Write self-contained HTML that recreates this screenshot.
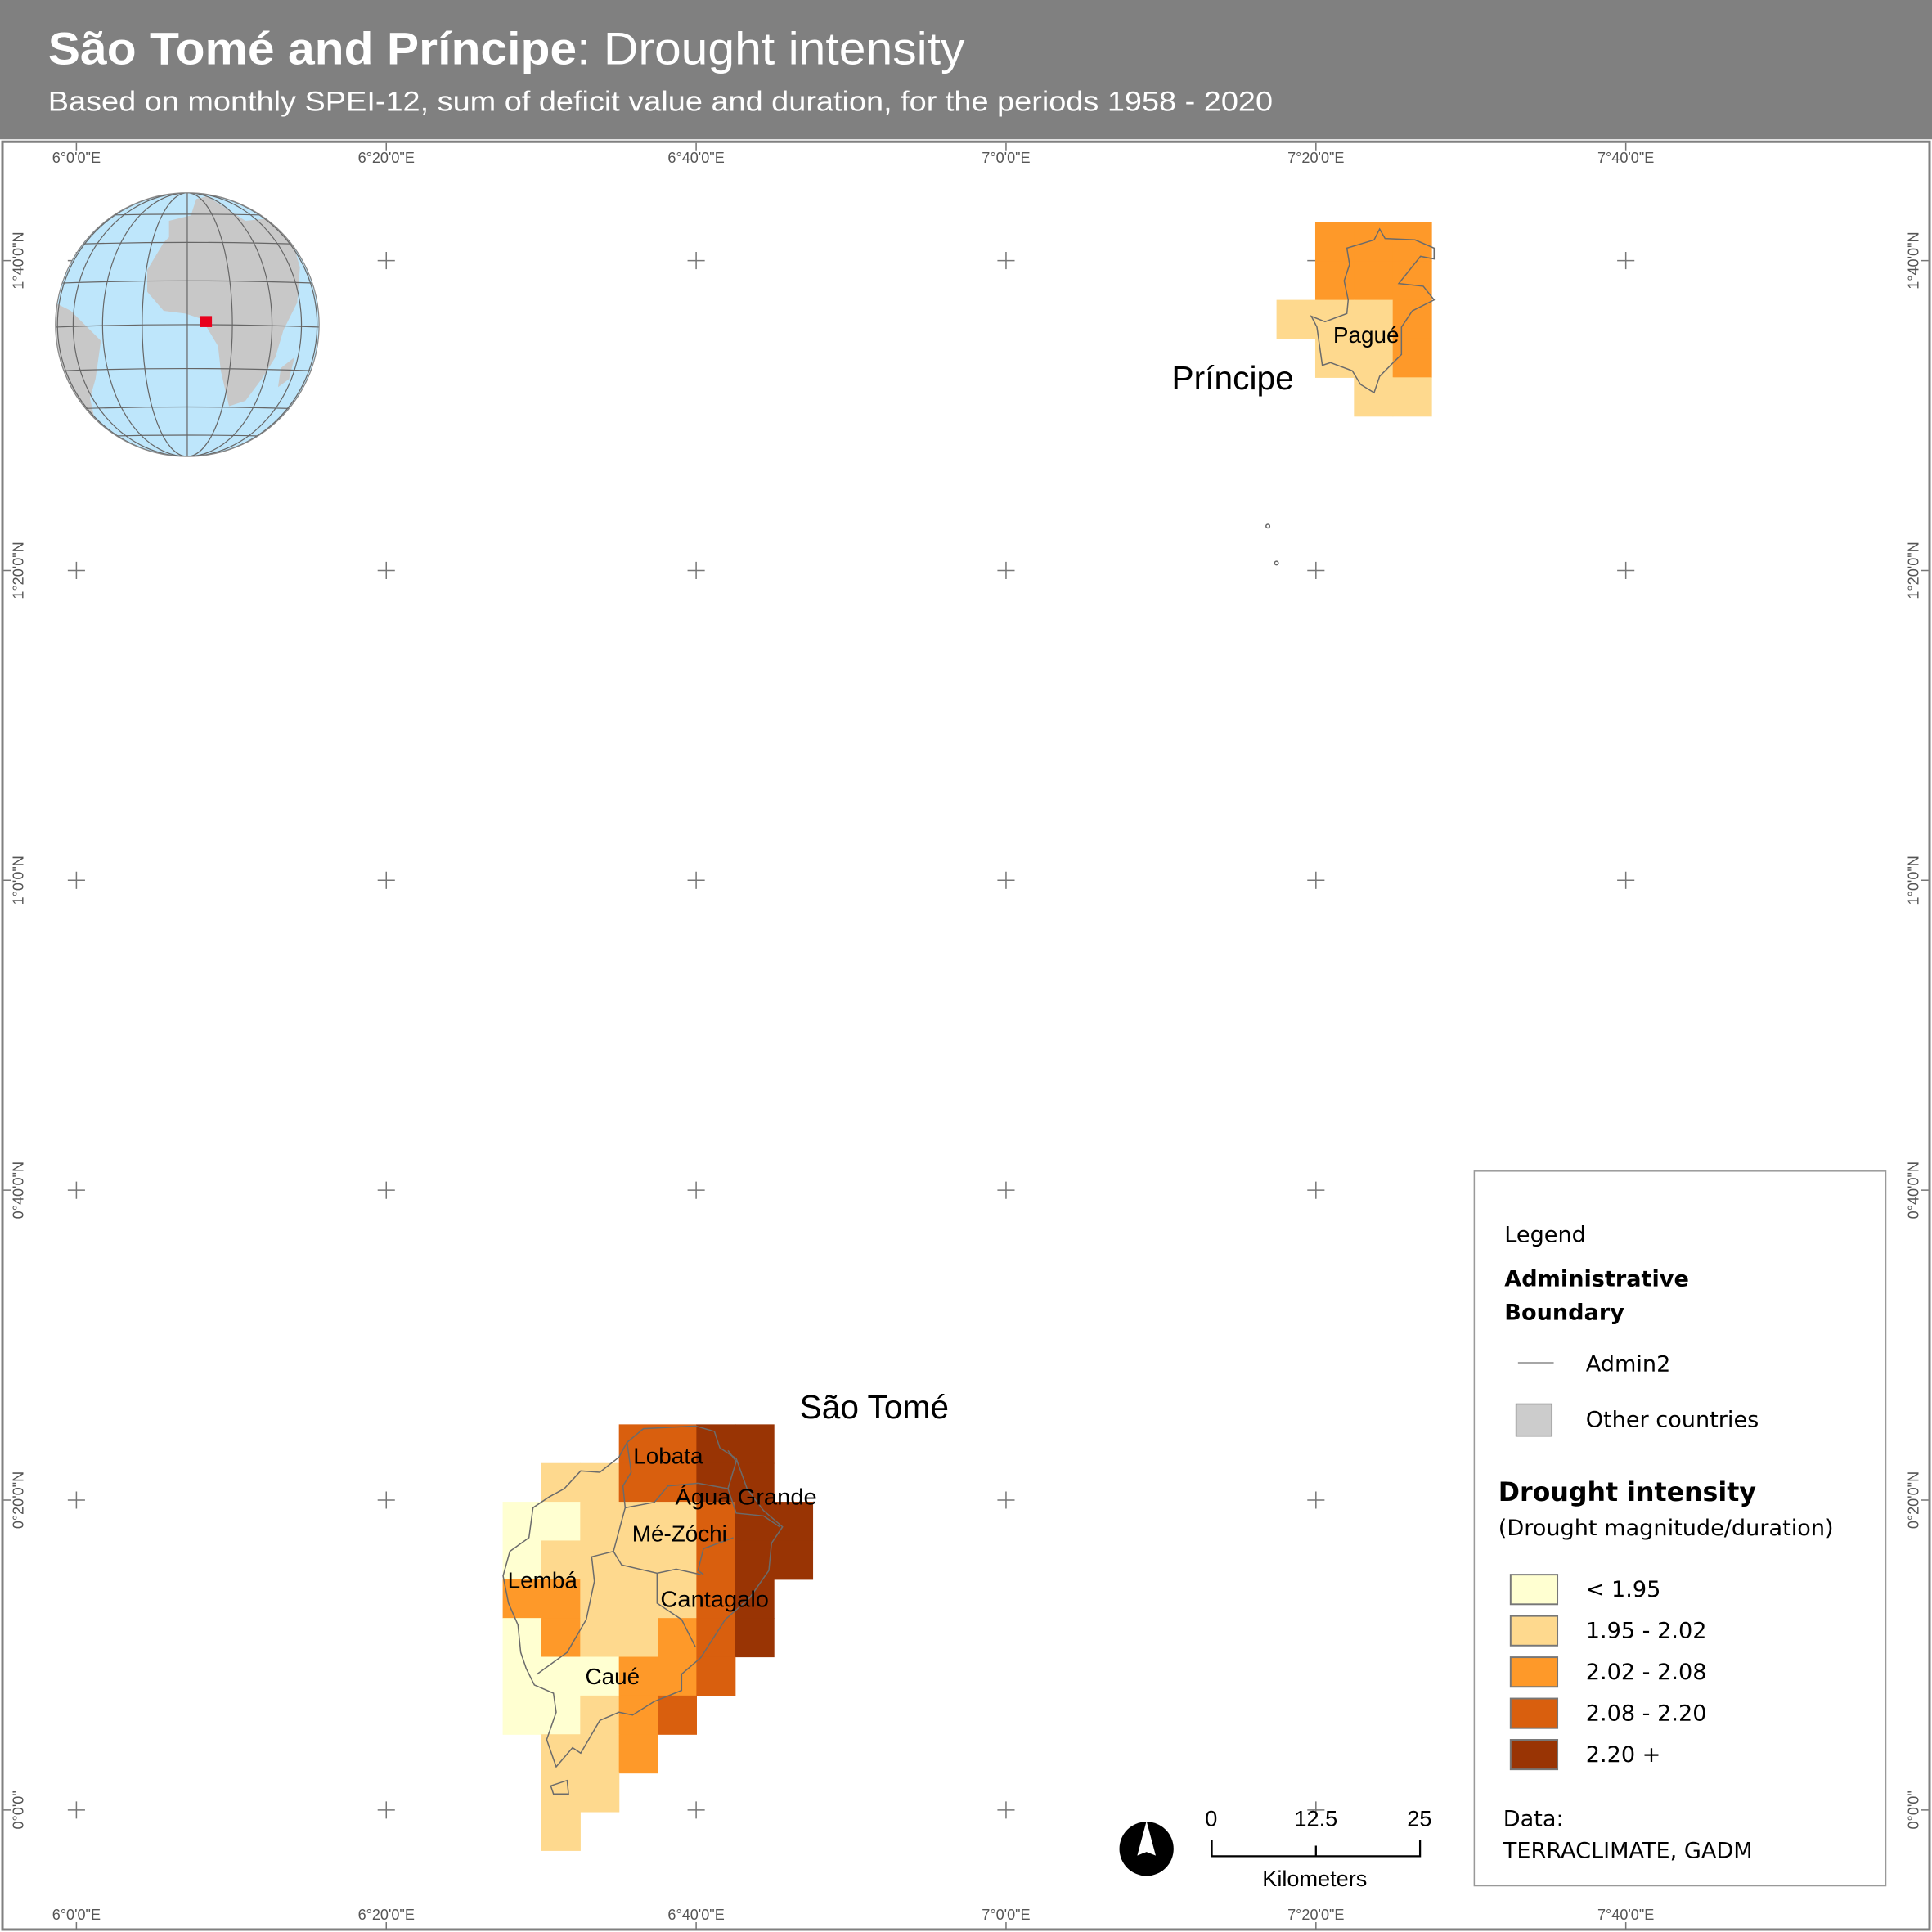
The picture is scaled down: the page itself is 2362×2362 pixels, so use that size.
<!DOCTYPE html>
<html><head><meta charset="utf-8"><style>html,body{margin:0;padding:0;background:#fff}svg{display:block}</style></head>
<body>
<svg id="map" xmlns="http://www.w3.org/2000/svg" width="2362" height="2362" viewBox="0 0 1568 1568" font-family="'Liberation Sans', sans-serif">
<rect x="0" y="0" width="1568" height="1568" fill="#fff"/>
<rect x="0" y="0" width="1568" height="113" fill="#808080"/>
<text x="39" y="52" font-size="37" fill="#fff" textLength="744" lengthAdjust="spacingAndGlyphs"><tspan font-weight="bold">São Tomé and Príncipe</tspan>: Drought intensity</text>
<text x="39" y="90" font-size="23" fill="#fff" textLength="994" lengthAdjust="spacingAndGlyphs">Based on monthly SPEI-12, sum of deficit value and duration, for the periods 1958 - 2020</text>
<rect x="2" y="115" width="1564" height="1451" fill="none" stroke="#808080" stroke-width="2"/>
<g id="grat"></g>
<g id="cells"></g>
<g id="outlines" fill="none" stroke="#6b6b6b" stroke-width="1"></g>
<g font-size="18.5" fill="#000">
<text x="514" y="1188">Lobata</text>
<text x="548" y="1221" textLength="115" lengthAdjust="spacingAndGlyphs">Água Grande</text>
<text x="513" y="1251">Mé-Zóchi</text>
<text x="412" y="1289">Lembá</text>
<text x="536" y="1304" textLength="88" lengthAdjust="spacingAndGlyphs">Cantagalo</text>
<text x="475" y="1367">Caué</text>
<text x="1082" y="278">Pagué</text>
</g>
<text x="951" y="316" font-size="27">Príncipe</text>
<text x="649" y="1151" font-size="27">São Tomé</text>
<g id="globe"></g>
<g>
<circle cx="930.5" cy="1500.5" r="22" fill="#000"/>
<polygon points="930.5,1478 923,1506 930.5,1503 938,1506" fill="#fff"/>
</g>
<g font-size="18">
<path d="M983.5,1493 V1506.5 H1152.5 V1493 M1068,1498 V1506.5" fill="none" stroke="#000" stroke-width="1.5"/>
<text x="983" y="1482" text-anchor="middle">0</text>
<text x="1068" y="1482" text-anchor="middle">12.5</text>
<text x="1152" y="1482" text-anchor="middle">25</text>
<text x="1067" y="1531" text-anchor="middle">Kilometers</text>
</g>
<g font-family="'DejaVu Sans','Liberation Sans',sans-serif">
<rect x="1196.5" y="950.5" width="334" height="580" fill="#fff" stroke="#999" stroke-width="1"/>
<text x="1221" y="1008" font-size="18">Legend</text>
<text x="1221" y="1044" font-size="18" font-weight="bold">Administrative</text>
<text x="1221" y="1071" font-size="18" font-weight="bold">Boundary</text>
<line x1="1232" y1="1106" x2="1261" y2="1106" stroke="#888" stroke-width="1"/>
<text x="1287" y="1113" font-size="18">Admin2</text>
<rect x="1230.5" y="1139.5" width="29" height="26" fill="#ccc" stroke="#888"/>
<text x="1287" y="1158" font-size="18">Other countries</text>
<text x="1216" y="1218" font-size="21" font-weight="bold">Drought intensity</text>
<text x="1216" y="1246" font-size="18">(Drought magnitude/duration)</text>
<g id="legend-items"></g>
<text x="1220" y="1482" font-size="18">Data:</text>
<text x="1220" y="1508" font-size="18">TERRACLIMATE, GADM</text>
</g>
</svg>
<script>
const NS='http://www.w3.org/2000/svg';
// Drought classes
const classLabels=['< 1.95','1.95 - 2.02','2.02 - 2.08','2.08 - 2.20','2.20 +'];
const classColors=['#ffffd1','#fed98e','#fe9929','#d95f0e','#993404'];
// São Tomé grid: each row string, '.' = no data, digits = class index
const saoTomeRows=[
 '...3344.',
 '.113344.',
 '00111344',
 '01111344',
 '2211134.',
 '0211234.',
 '000223..',
 '00123...',
 '.112....',
 '.11.....',
 '.1......'];
// Príncipe grid (first column one cell west of main block)
const principeRows=[
 '.222',
 '.222',
 '1112',
 '.112',
 '..11'];
const lonTicks=['6°0\'0"E','6°20\'0"E','6°40\'0"E','7°0\'0"E','7°20\'0"E','7°40\'0"E'];
const latTicks=['1°40\'0"N','1°20\'0"N','1°0\'0"N','0°40\'0"N','0°20\'0"N','0°0\'0"'];

const lonVals=[6,6+1/3,6+2/3,7,7+1/3,7+2/3];
const latVals=[5/3,4/3,1,2/3,1/3,0];
const X=lon=>62+(lon-6)*754.5;
const Y=lat=>1469-lat*754.5;
const cell=1/24;

function mk(tag,attrs,parent){const e=document.createElementNS(NS,tag);for(const k in attrs)e.setAttribute(k,attrs[k]);parent.appendChild(e);return e;}

const g=document.getElementById('grat');
lonVals.forEach((lo,i)=>{
  const x=X(lo);
  latVals.forEach(la=>{const y=Y(la);
    const c=mk('path',{d:`M${x-7},${y}H${x+7}M${x},${y-7}V${y+7}`,stroke:'#777','stroke-width':1},g);
    
    
  });
  mk('path',{d:`M${x},116V122M${x},1560V1566`,stroke:'#777','stroke-width':1},g);
  for(const yy of [132,1558]){
    const t=mk('text',{x:x,y:yy,'font-size':12,fill:'#555','text-anchor':'middle'},g);t.textContent=lonTicks[i];
    
    
  }
});
latVals.forEach((la,i)=>{
  const y=Y(la);
  mk('path',{d:`M3,${y}H9M1559,${y}H1565`,stroke:'#777','stroke-width':1},g);
  for(const xx of [19,1557]){
    const t=mk('text',{x:xx,y:y,'font-size':12,fill:'#555','text-anchor':'middle',transform:`rotate(-90 ${xx} ${y})`},g);t.textContent=latTicks[i];
    
    
  }
});

const cg=document.getElementById('cells');
function drawGrid(rows,lon0,lat0,name){
  rows.forEach((r,ri)=>{[...r].forEach((ch,ci)=>{
    if(ch==='.')return;
    const x0=X(lon0+ci*cell),x1=X(lon0+(ci+1)*cell),y0=Y(lat0-ri*cell),y1=Y(lat0-(ri+1)*cell);
    const e=mk('rect',{x:x0,y:y0,width:x1-x0+0.4,height:y1-y0+0.4,fill:classColors[+ch]},cg);
    
    
  });});
}
drawGrid(saoTomeRows,6+ (408-62)/754.5, (1469-1156)/754.5,'sao-tome');
drawGrid(principeRows,6+(1036-62)/754.5,(1469-180.5)/754.5,'principe');

const og=document.getElementById('outlines');
function poly(pts,ox,oy,s,name){const d='M'+pts.map(p=>(ox+p[0]/s).toFixed(1)+','+(oy+p[1]/s).toFixed(1)).join('L')+'Z';
  const e=mk('path',{d:d},og);}
poly([[470,185],[400,240],[330,235],[270,300],[215,330],[155,370],[140,480],[70,530],[45,620],[65,720],[100,800],[110,900],[130,960],[160,1020],[230,1050],[240,1120],[205,1220],[240,1320],[300,1250],[330,1270],[400,1150],[470,1120],[520,1130],[600,1080],[700,1040],[700,980],[770,920],[860,780],[950,700],[1020,600],[1030,500],[1070,440],[1000,380],[940,300],[900,190],[840,150],[820,90],[750,70],[560,80],[500,130]],398.3,1141.8,4.519,'sao-tome-outline');
poly([[220,1390],[280,1370],[285,1420],[230,1420]],398.3,1141.8,4.519,'rolas-islet');
const inner=[[[500,130],[515,240],[485,290],[493,370],[450,530],[370,550],[380,640],[350,780],[280,900],[170,980]],
[[450,530],[480,580],[610,610],[680,595],[770,615]],[[610,610],[610,720],[700,780],[750,880]],
[[493,370],[600,350],[650,290],[760,280]],[[760,280],[870,300],[900,390],[1000,400],[1060,440]],
[[870,300],[900,200],[870,160]],[[890,480],[780,520],[760,600],[780,615]]];
inner.forEach(l=>{const d='M'+l.map(p=>(398.3+p[0]/4.519).toFixed(1)+','+(1141.8+p[1]/4.519).toFixed(1)).join('L');
  const e=mk('path',{d:d},og);});
poly([[320,130],[420,100],[440,60],[460,95],[570,100],[640,130],[640,170],[590,160],[510,260],[600,270],[640,320],[560,360],[520,420],[520,520],[490,550],[440,600],[420,660],[370,630],[340,580],[260,550],[230,560],[210,420],[190,380],[240,400],[320,370],[325,320],[310,250],[330,190]],1022.3,172.6,4.519,'principe-outline');
mk('circle',{cx:1029,cy:427,r:1.5,fill:'none',stroke:'#666'},og);
mk('circle',{cx:1036,cy:457,r:1.5,fill:'none',stroke:'#666'},og);

const lg=document.getElementById('legend-items');
classLabels.forEach((lab,i)=>{
  const y=1278+i*33.5;
  const r=mk('rect',{x:1226,y:y,width:38,height:24,fill:classColors[i],stroke:'#777','stroke-width':1.3},lg);
  
  
  const t=mk('text',{x:1287,y:y+18,'font-size':18},lg);t.textContent=lab;
  
  
});

const gl=document.getElementById('globe');
const cx=152,cy=263.5,R=107;
mk('defs',{},gl).innerHTML=`<clipPath id="gc"><circle cx="${cx}" cy="${cy}" r="${R}"/></clipPath>`;
mk('circle',{cx,cy,r:R,fill:'#bee6fb'},gl);
const land=mk('g',{'clip-path':'url(#gc)',fill:'#c8c8c8'},gl);
function gp(pts){mk('path',{d:'M'+pts.map(p=>(p[0]/4.519).toFixed(1)+','+(112.85+p[1]/4.519).toFixed(1)).join('L')+'Z'},land);}
gp([[540,480],[600,380],[620,360],[620,300],[700,280],[720,220],[760,210],[900,300],[1000,290],[1080,400],[1100,470],[1090,600],[1040,700],[1010,800],[960,880],[900,960],[840,980],[810,850],[800,760],[740,660],[680,640],[600,630],[540,560]]);
gp([[200,600],[260,630],[370,740],[350,880],[330,950],[350,1040],[260,960],[200,800]]);
gp([[1080,800],[1060,880],[1020,910],[1030,840]]);
const gr=mk('g',{'clip-path':'url(#gc)',fill:'none',stroke:'#666','stroke-width':0.8},gl);
[0,20,40,60,80].forEach(a=>{const rx=R*Math.sin(a*Math.PI/180);
  if(a===0)mk('line',{x1:cx,y1:cy-R,x2:cx,y2:cy+R},gr);else mk('ellipse',{cx,cy,rx,ry:R},gr);});
[-60,-40,-20,0,20,40,60].forEach(a=>{const y=cy-R*Math.sin(a*Math.PI/180)+(a*0.05);
  mk('path',{d:`M${cx-R},${y+2} Q${cx},${y-2} ${cx+R},${y+2}`},gr);});
mk('circle',{cx,cy,r:R,fill:'none',stroke:'#888','stroke-width':0.8},gl);
mk('rect',{x:162,y:256.5,width:10,height:9,fill:'#e8001c'},gl);
</script>
</body></html>
